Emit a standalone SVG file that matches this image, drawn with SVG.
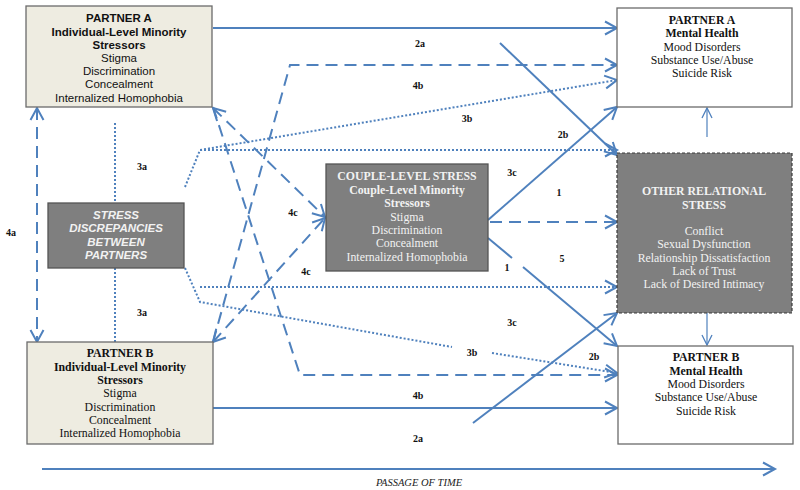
<svg xmlns="http://www.w3.org/2000/svg" width="800" height="490" viewBox="0 0 800 490">
<style>
.bx{fill:#EEECE1;stroke:#6b6b6b;stroke-width:1.3}
.wb{fill:#ffffff;stroke:#6b6b6b;stroke-width:1.3}
.gb{fill:#7F7F7F;stroke:#555555;stroke-width:1.3}
.ors{fill:#7F7F7F;stroke:#3a3a3a;stroke-width:1.2;stroke-dasharray:3 2}
.sans{font-family:"Liberation Sans",Arial,sans-serif;font-size:11.5px;fill:#111;text-anchor:middle}
.serif{font-family:"Liberation Serif","Times New Roman",serif;font-size:11.8px;fill:#111;text-anchor:middle}
.w{fill:#f2f2f2}
.b{font-weight:bold}
.lbl{font-family:"Liberation Serif","Times New Roman",serif;font-size:10px;font-weight:bold;fill:#111;text-anchor:middle}
.ln{fill:none;stroke:#4F81BD;stroke-width:2}
.da{stroke-dasharray:12 7}
.dt{stroke-dasharray:2 2}
.thin{stroke-width:1.2}
</style>
<defs>
<marker id="ah" markerUnits="userSpaceOnUse" markerWidth="16" markerHeight="16" viewBox="0 0 16 16" refX="13" refY="8" orient="auto-start-reverse">
<path d="M1,1.5 L13,8 L1,14.5" fill="none" stroke="#4F81BD" stroke-width="2"/>
</marker>
<marker id="ahs" markerUnits="userSpaceOnUse" markerWidth="14" markerHeight="14" viewBox="0 0 14 14" refX="11" refY="7" orient="auto">
<path d="M1,2 L11,7 L1,12" fill="none" stroke="#4F81BD" stroke-width="1.3"/>
</marker>
</defs>

<g id="connectors">
<path class="ln" d="M213,28 H617" marker-end="url(#ah)"/>
<path class="ln" d="M500,43 L617,155" marker-end="url(#ah)"/>
<path class="ln da" d="M213,342 L290,65 H617" marker-end="url(#ah)"/>
<path class="ln dt" d="M185,187 L200,150 L617,80" marker-end="url(#ah)"/>
<path class="ln dt" d="M200,150 H617" marker-end="url(#ah)"/>
<path class="ln dt" d="M115,123 V203"/>
<path class="ln dt" d="M115,268 V347"/>
<path class="ln da" d="M37,108 V342" marker-start="url(#ah)" marker-end="url(#ah)"/>
<path class="ln da" d="M213,108 L325,217" marker-start="url(#ah)" marker-end="url(#ah)"/>
<path class="ln da" d="M213,342 L325,218" marker-start="url(#ah)" marker-end="url(#ah)"/>
<path class="ln da" d="M213,107 L300,375 H617" marker-end="url(#ah)"/>
<path class="ln" d="M488,220 L617,107" marker-end="url(#ah)"/>
<path class="ln da" d="M490,222 H617" marker-end="url(#ah)"/>
<path class="ln" d="M488,238 L512,258"/>
<path class="ln" d="M523,267 L617,346" marker-end="url(#ah)"/>
<path class="ln dt" d="M200,287 H617" marker-end="url(#ah)"/>
<path class="ln dt" d="M185,268 L200,302 L452,347"/>
<path class="ln dt" d="M492,353 L617,373" marker-end="url(#ah)"/>
<path class="ln" d="M473,423 L617,313" marker-end="url(#ah)"/>
<path class="ln" d="M213,408 H617" marker-end="url(#ah)"/>
<path class="ln thin" d="M707,137 V108" marker-end="url(#ahs)"/>
<path class="ln thin" d="M707,313 V345" marker-end="url(#ahs)"/>
<path class="ln" d="M42,469 H775" marker-end="url(#ah)"/>
</g>

<g id="labels">
<text class="lbl" x="420" y="47">2a</text>
<text class="lbl" x="418" y="89">4b</text>
<text class="lbl" x="467" y="122">3b</text>
<text class="lbl" x="142" y="170">3a</text>
<text class="lbl" x="11" y="236">4a</text>
<text class="lbl" x="293" y="216">4c</text>
<text class="lbl" x="306" y="275">4c</text>
<text class="lbl" x="142" y="316">3a</text>
<text class="lbl" x="563" y="138">2b</text>
<text class="lbl" x="512" y="176">3c</text>
<text class="lbl" x="559" y="196">1</text>
<text class="lbl" x="507" y="271">1</text>
<text class="lbl" x="562" y="262">5</text>
<text class="lbl" x="512" y="326">3c</text>
<text class="lbl" x="594" y="360">2b</text>
<text class="lbl" x="472" y="356">3b</text>
<text class="lbl" x="418" y="399">4b</text>
<text class="lbl" x="418" y="442">2a</text>
<text x="419" y="486" style="font-family:'Liberation Serif','Times New Roman',serif;font-size:10.5px;font-style:italic;fill:#222;text-anchor:middle">PASSAGE OF TIME</text>
</g>

<g id="partnerA">
<rect class="bx" x="26" y="6" width="186" height="101"/>
<text class="sans b" x="119" y="22">PARTNER A</text>
<text class="sans b" x="119" y="36">Individual-Level Minority</text>
<text class="sans b" x="119" y="49">Stressors</text>
<text class="sans" x="119" y="62">Stigma</text>
<text class="sans" x="119" y="75">Discrimination</text>
<text class="sans" x="119" y="88">Concealment</text>
<text class="sans" x="119" y="102">Internalized Homophobia</text>
</g>

<g id="partnerB">
<rect class="bx" x="27" y="342" width="186" height="102"/>
<text class="serif b" x="120" y="357">PARTNER B</text>
<text class="serif b" x="120" y="371">Individual-Level Minority</text>
<text class="serif b" x="120" y="384">Stressors</text>
<text class="serif" x="120" y="397">Stigma</text>
<text class="serif" x="120" y="411">Discrimination</text>
<text class="serif" x="120" y="424">Concealment</text>
<text class="serif" x="120" y="437">Internalized Homophobia</text>
</g>

<g id="stressDiscrepancies">
<rect class="gb" x="48" y="203" width="136" height="65"/>
<text class="sans b w" x="116" y="219" font-style="italic">STRESS</text>
<text class="sans b w" x="116" y="232" font-style="italic">DISCREPANCIES</text>
<text class="sans b w" x="116" y="246" font-style="italic">BETWEEN</text>
<text class="sans b w" x="116" y="259" font-style="italic">PARTNERS</text>
</g>

<g id="coupleStress">
<rect class="gb" x="326" y="164" width="162" height="107"/>
<text class="serif b w" x="407" y="180">COUPLE-LEVEL STRESS</text>
<text class="serif b w" x="407" y="194">Couple-Level Minority</text>
<text class="serif b w" x="407" y="207">Stressors</text>
<text class="serif w" x="407" y="221">Stigma</text>
<text class="serif w" x="407" y="234">Discrimination</text>
<text class="serif w" x="407" y="247">Concealment</text>
<text class="serif w" x="407" y="261">Internalized Homophobia</text>
</g>

<g id="otherRelationalStress">
<rect class="ors" x="617" y="153" width="175" height="160"/>
<text class="serif b w" x="704" y="195">OTHER RELATIONAL</text>
<text class="serif b w" x="704" y="209">STRESS</text>
<text class="serif w" x="704" y="235">Conflict</text>
<text class="serif w" x="704" y="248">Sexual Dysfunction</text>
<text class="serif w" x="704" y="262">Relationship Dissatisfaction</text>
<text class="serif w" x="704" y="275">Lack of Trust</text>
<text class="serif w" x="704" y="288">Lack of Desired Intimacy</text>
</g>

<g id="partnerAMentalHealth">
<rect class="wb" x="617" y="8" width="175" height="99"/>
<text class="serif b" x="702" y="24">PARTNER A</text>
<text class="serif b" x="702" y="37">Mental Health</text>
<text class="serif" x="702" y="51">Mood Disorders</text>
<text class="serif" x="702" y="64">Substance Use/Abuse</text>
<text class="serif" x="702" y="77">Suicide Risk</text>
</g>

<g id="partnerBMentalHealth">
<rect class="wb" x="618" y="346" width="175" height="98"/>
<text class="serif b" x="706" y="361">PARTNER B</text>
<text class="serif b" x="706" y="375">Mental Health</text>
<text class="serif" x="706" y="388">Mood Disorders</text>
<text class="serif" x="706" y="401">Substance Use/Abuse</text>
<text class="serif" x="706" y="415">Suicide Risk</text>
</g>
</svg>
